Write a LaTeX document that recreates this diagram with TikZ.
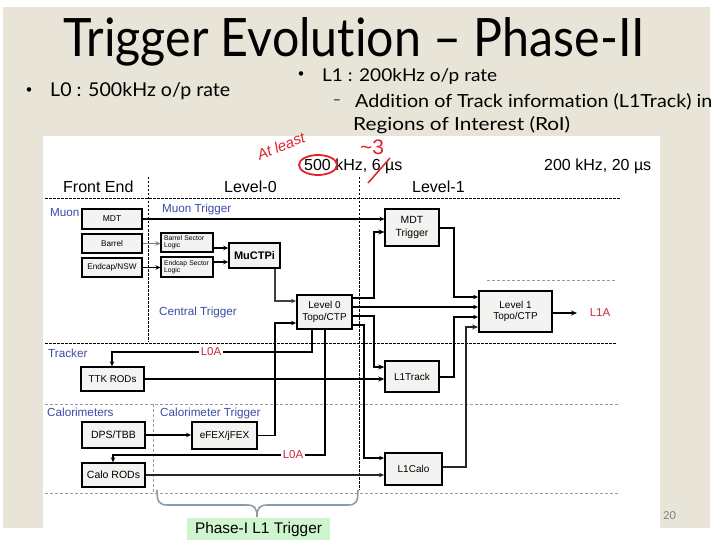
\documentclass[tikz,border=0pt]{standalone}
\usepackage{fontspec}
\usepackage{graphicx}
\setmainfont{Liberation Sans}
\newfontfamily\slidefont[Ligatures=NoCommon]{Lato}
\usetikzlibrary{arrows.meta}
\definecolor{slidebg}{HTML}{E8E4D8}
\definecolor{boxfill}{HTML}{F3F3F1}
\definecolor{lblue}{HTML}{3A4CA6}
\definecolor{lred}{HTML}{C42A3C}
\definecolor{hred}{HTML}{E0222C}
\definecolor{bracecol}{HTML}{8C9BA8}
\definecolor{phasegreen}{HTML}{CFF5CF}
\definecolor{dgray}{HTML}{9A9A9A}
\tikzset{
  box/.style={draw=black, fill=boxfill, line width=1.1pt, inner sep=0pt, align=center, font=\fontsize{10}{11.5}\selectfont},
  heavybox/.style={box, line width=1.9pt},
  conn/.style={line width=1.1pt, -{Stealth[length=5pt,width=4.5pt]}},
  heavyconn/.style={line width=2pt, -{Stealth[length=6pt,width=5pt]}},
  blab/.style={text=lblue, font=\fontsize{11.7}{12}\selectfont, inner sep=0pt, anchor=base west},
  rlab/.style={text=lred, font=\fontsize{11.5}{12}\selectfont, fill=white, inner sep=2pt},
  head/.style={font=\fontsize{16}{18}\selectfont, inner sep=0pt, anchor=base west},
  bdash/.style={line width=0.8pt, dash pattern=on 2.5pt off 1.5pt},
  gdash/.style={line width=0.7pt, draw=dgray, dash pattern=on 3pt off 2pt},
  stext/.style={inner sep=0pt, anchor=base west},
}
\begin{document}
\begin{tikzpicture}[x=1pt,y=-1pt]
\useasboundingbox (0,0) rectangle (720,540);
% slide background
\fill[white] (0,0) rectangle (720,540);
\fill[slidebg] (3,7) rectangle (710,528);
\fill[white] (43,136) rectangle (660,540);

% slide texts
\node[stext] (title) at (63,57) {\resizebox{582pt}{39pt}{\slidefont\fontsize{40}{48}\selectfont Trigger Evolution – Phase-II}};
\node[inner sep=0pt, font=\slidefont\fontsize{12}{12}\selectfont] (bul1) at (29,91) {•};
\node[stext] (l0rate) at (50,97) {\resizebox{180pt}{14pt}{\slidefont\fontsize{14}{16}\selectfont L0 : 500kHz o/p rate}};
\node[inner sep=0pt, font=\slidefont\fontsize{12}{12}\selectfont] (bul2) at (301,75) {•};
\node[stext] (l1rate) at (322,82) {\resizebox{175pt}{13pt}{\slidefont\fontsize{14}{16}\selectfont L1 : 200kHz o/p rate}};
\node[inner sep=0pt, font=\slidefont\fontsize{14}{14}\selectfont] (dash1) at (337,102) {–};
\node[stext] (addtrk) at (355,108) {\resizebox{357pt}{14pt}{\slidefont\fontsize{14}{16}\selectfont Addition of Track information (L1Track) in}};
\node[stext] (roi) at (353,131) {\resizebox{217pt}{14pt}{\slidefont\fontsize{14}{16}\selectfont Regions of Interest (RoI)}};
\node[stext, text=gray, font=\slidefont\fontsize{11}{12}\selectfont] (pnum) at (663,519) {20};

% dashed region lines
\draw[bdash] (45,198) -- (620,198);
\draw[bdash] (45,343) -- (617,343);
\draw[bdash] (148,177) -- (148,342);
\draw[bdash] (359,177) -- (359,490);
\draw[gdash] (487,280) -- (617,280);
\draw[gdash] (45,404) -- (620,404);
\draw[gdash] (45,493) -- (620,493);
\draw[gdash] (153,404) -- (153,493);

% headers
\node[head] (fe) at (63,193) {Front End};
\node[head] (lv0) at (224,193) {Level-0};
\node[head] (lv1) at (412,193) {Level-1};
\node[head] (r500) at (304,171) {500 kHz, 6 µs};
\node[head] (r200) at (544,171) {200 kHz, 20 µs};

% handwritten annotations
\node[text=hred, font=\fontsize{15}{15}\selectfont\itshape, inner sep=0pt, rotate=22] (atleast) at (281,146) {At least};
\node[text=hred, font=\fontsize{21}{21}\selectfont, inner sep=0pt] (tilde3) at (372,147) {\textasciitilde 3};
\draw[hred, line width=1.8pt] (318,165) ellipse [x radius=19, y radius=10];
\draw[hred, line width=1.5pt] (390,158) -- (368,183);

% blue labels
\node[blab] (muonlab) at (50,217) {Muon};
\node[blab] (muontrig) at (162,212) {Muon Trigger};
\node[blab] (centrig) at (159,315) {Central Trigger};
\node[blab] (tracker) at (48,357) {Tracker};
\node[blab] (calos) at (47,416) {Calorimeters};
\node[blab] (calotrig) at (160,416) {Calorimeter Trigger};

% boxes
\node[box, minimum width=60pt, minimum height=20pt, font=\fontsize{8.5}{9}\selectfont] (mdtfe) at (112,219) {MDT};
\node[box, minimum width=60pt, minimum height=19pt, font=\fontsize{8.2}{9}\selectfont] (barrel) at (112,243.5) {Barrel};
\node[box, minimum width=60pt, minimum height=19pt, font=\fontsize{8.2}{9}\selectfont] (endcap) at (112,267.5) {Endcap/NSW};
\node[box, minimum width=52pt, minimum height=19pt, text width=46pt, align=left, font=\fontsize{6.8}{7}\selectfont] (bsl) at (187,242.5) {Barrel Sector\\Logic};
\node[box, minimum width=52pt, minimum height=20pt, text width=46pt, align=left, font=\fontsize{6.8}{7}\selectfont] (esl) at (187,267) {Endcap Sector\\Logic};
\node[heavybox, line width=1.5pt, minimum width=51pt, minimum height=25pt, font=\bfseries\fontsize{11}{12}\selectfont] (muctpi) at (254.5,255.5) {MuCTPi};
\node[heavybox, minimum width=55pt, minimum height=34pt] (l0) at (324.5,312) {Level 0\\Topo/CTP};
\node[box, minimum width=54pt, minimum height=37pt, font=\fontsize{10.4}{12.5}\selectfont] (mdttrig) at (412,227.5) {MDT\\Trigger};
\node[heavybox, minimum width=73pt, minimum height=41pt] (l1) at (515.5,311.5) {Level 1\\Topo/CTP};
\node[box, line width=1.4pt, minimum width=54pt, minimum height=31pt] (l1track) at (412,376.5) {L1Track};
\node[box, line width=1.4pt, minimum width=63pt, minimum height=24pt, font=\fontsize{9.8}{11}\selectfont] (ttk) at (112.5,379) {TTK RODs};
\node[box, line width=1.4pt, minimum width=63pt, minimum height=26pt, font=\fontsize{10.5}{11}\selectfont] (dps) at (113.5,435) {DPS/TBB};
\node[heavybox, minimum width=65pt, minimum height=27pt] (efex) at (224.5,435.5) {eFEX/jFEX};
\node[box, line width=1.4pt, minimum width=63pt, minimum height=24pt, font=\fontsize{10.5}{11}\selectfont] (calorods) at (113.5,475) {Calo RODs};
\node[heavybox, minimum width=57pt, minimum height=32pt] (l1calo) at (413.5,469) {L1Calo};

% connectors
\draw[conn] (mdtfe.east) -- (mdttrig.west |- mdtfe.east);
\draw[conn, draw=gray] (barrel.east) -- (bsl.west |- barrel.east);
\draw[conn] (endcap.east) -- (esl.west |- endcap.east);
\draw[conn] (bsl.east |- 0,248) -- (muctpi.west |- 0,248);
\draw[conn] (esl.east |- 0,262) -- (muctpi.west |- 0,262);
\draw[conn, draw=black!75] (muctpi.south -| 275,0) -- (275,301) -- (l0.west |- 0,301);
\draw[heavyconn] (l0.east |- 0,298) -- (374,298) -- (374,232) -- (mdttrig.west |- 0,232);
\draw[conn] (l0.east |- 0,307) -- (l1.west |- 0,307);
\draw[heavyconn] (l0.east |- 0,316) -- (374,316) -- (374,367) -- (l1track.west |- 0,367);
\draw[conn] (l0.east |- 0,325) -- (364,325) -- (364,458) -- (l1calo.west |- 0,458);
\draw[conn] (l0.south -| 312,0) -- (312,352) -- (112,352) -- (ttk.north -| 112,0);
\node[rlab] (l0a1) at (211,352) {L0A};
\draw[conn] (l0.south -| 325,0) -- (325,455) -- (113,455) -- (calorods.north -| 113,0);
\node[rlab] (l0a2) at (293,455) {L0A};
\draw[heavyconn] (ttk.east) -- (l1track.west |- ttk.east);
\draw[conn] (dps.east) -- (efex.west |- dps.east);
\draw[conn] (efex.east) -- (efex.east -| 275,0) -- (275,323) -- (l0.west |- 0,323);
\draw[conn, draw=black!85] (calorods.east) -- (l1calo.west |- calorods.east);
\draw[conn] (mdttrig.east |- 0,228) -- (454,228) -- (454,297) -- (l1.west |- 0,297);
\draw[conn] (l1track.east |- 0,377) -- (454,377) -- (454,317) -- (l1.west |- 0,317);
\draw[heavyconn, draw=black!85] (l1calo.east |- 0,467) -- (466,467) -- (466,327) -- (l1.west |- 0,327);
\coordinate (l1aout) at (577,313);
\draw[heavyconn] (l1.east |- l1aout) -- (l1aout);
\node[text=lred, font=\fontsize{11.5}{12}\selectfont, inner sep=0pt] (l1a) at (600,313) {L1A};

% brace and Phase-I label
\draw[bracecol, line width=1.6pt] (157,490) .. controls (157,502) and (159,505) .. (168,505) -- (246,505) .. controls (254,505) and (257,507) .. (257,517) .. controls (257,507) and (260,505) .. (268,505) -- (348,505) .. controls (356,505) and (358,502) .. (358,490);
\node[fill=phasegreen, minimum width=143pt, minimum height=24pt, inner sep=0pt, font=\fontsize{15.4}{16}\selectfont] (phase1) at (258.5,530) {Phase-I L1 Trigger};
\end{tikzpicture}
\end{document}
